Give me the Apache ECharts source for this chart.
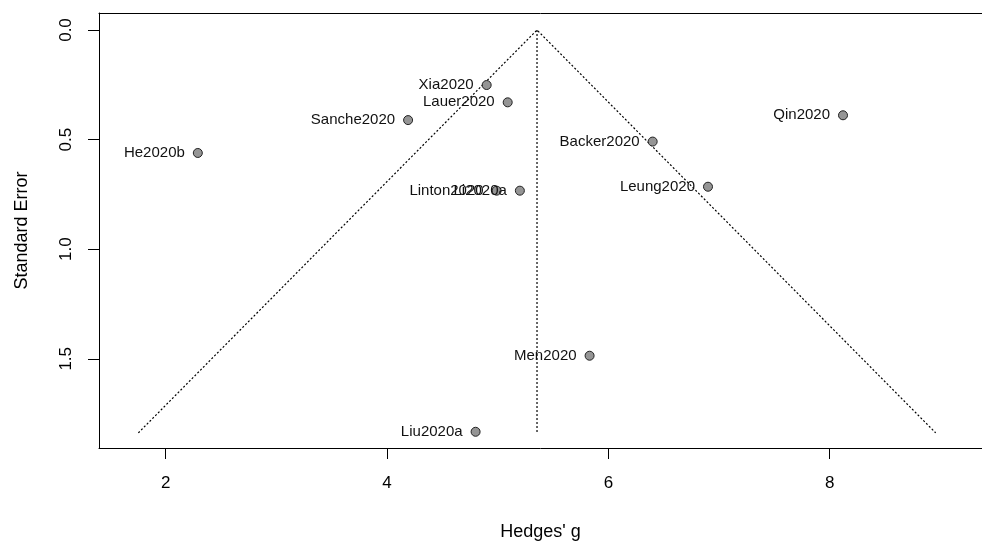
<!DOCTYPE html>
<html>
<head>
<meta charset="utf-8">
<script src="https://cdn.jsdelivr.net/npm/echarts@6/dist/echarts.min.js"></script>
<style>html,body{margin:0;padding:0;background:#fff}#chart{width:982px;height:541px}</style>
</head>
<body>
<div id="chart"></div>
<script>
const studyNames = ["Xia2020","Lauer2020","Sanche2020","He2020b","Linton2020","Li2020a","Backer2020","Qin2020","Leung2020","Men2020","Liu2020a"];
const hedgesG    = [4.90, 5.09, 4.19, 2.29, 4.99, 5.20, 6.40, 8.12, 6.90, 5.83, 4.80];
const stdError   = [0.251, 0.330, 0.411, 0.561, 0.733, 0.733, 0.509, 0.389, 0.715, 1.486, 1.833];
const pooledEstimate = 5.355;
const seMax = 1.838;
const zCrit = 1.96;
const xTicks = [2, 4, 6, 8];
const yTicks = [0, 0.5, 1.0, 1.5];

const pts = studyNames.map((n, i) => [hedgesG[i], stdError[i], n]);
const funnel = [
  [pooledEstimate - zCrit * seMax, seMax],
  [pooledEstimate, 0],
  [pooledEstimate + zCrit * seMax, seMax]
];
const vline = [[pooledEstimate, 0], [pooledEstimate, seMax]];

const font = "Liberation Sans, Arial, sans-serif";
const XMIN = 1.397, XMAX = 9.376;
const chart = echarts.init(document.getElementById('chart'), null, {renderer: 'canvas'});
chart.setOption({
  animation: false,
  backgroundColor: '#fff',
  grid: {left: 99, top: 13, right: 0, bottom: 93, show: false, containLabel: false, outerBoundsMode: 'none'},
  xAxis: [{
    type: 'value', min: XMIN, max: XMAX,
    name: "Hedges' g", nameLocation: 'middle', nameGap: 75,
    nameTextStyle: {fontFamily: font, fontSize: 18, color: '#000'},
    splitLine: {show: false},
    axisLine: {show: true, onZero: false, lineStyle: {color: '#000', width: 1}},
    axisTick: {show: true, length: 11, customValues: xTicks, lineStyle: {color: '#000', width: 1}},
    axisLabel: {customValues: xTicks, margin: 27, fontFamily: font, fontSize: 17, color: '#000', formatter: v => String(v)}
  }, {
    type: 'value', min: XMIN, max: XMAX, position: 'top',
    splitLine: {show: false},
    axisLine: {show: true, onZero: false, lineStyle: {color: '#000', width: 1}},
    axisTick: {show: false}, axisLabel: {show: false}
  }],
  yAxis: {
    type: 'value', inverse: true, min: -0.0776, max: 1.907,
    name: 'Standard Error', nameLocation: 'middle', nameGap: 68, nameRotate: 90,
    nameTextStyle: {fontFamily: font, fontSize: 18, color: '#000'},
    splitLine: {show: false},
    axisLine: {show: true, onZero: false, lineStyle: {color: '#000', width: 1}},
    axisTick: {show: true, length: 11, customValues: yTicks, lineStyle: {color: '#000', width: 1}},
    axisLabel: {customValues: yTicks, rotate: 90, margin: 24, fontFamily: font, fontSize: 17, color: '#000', formatter: v => v.toFixed(1)}
  },
  series: [
    {type: 'line', data: funnel, symbol: 'none', lineStyle: {color: '#000', width: 1.2, type: [2, 2]}, z: 1},
    {type: 'line', data: vline, symbol: 'none', lineStyle: {color: '#000', width: 1.2, type: [2, 2]}, z: 1},
    {
      type: 'scatter', data: pts, symbol: 'circle', symbolSize: 9,
      itemStyle: {color: '#959595', borderColor: '#222', borderWidth: 1, opacity: 1},
      label: {show: true, position: 'left', distance: 8, fontFamily: font, fontSize: 15, color: '#111', formatter: p => p.data[2]},
      z: 3
    }
  ]
});
</script>
</body>
</html>
